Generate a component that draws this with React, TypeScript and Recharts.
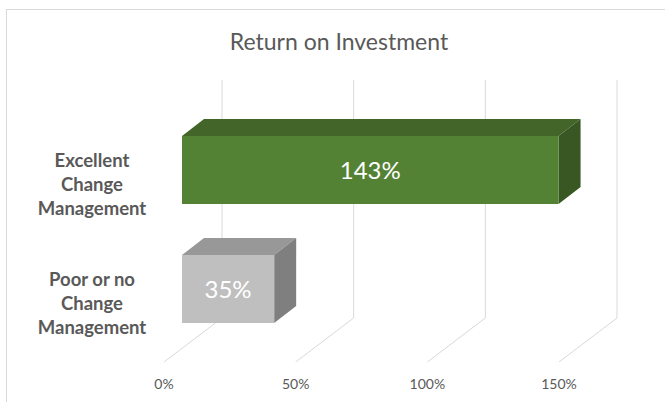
import React from "react";
import { BarChart, Bar, XAxis, YAxis, CartesianGrid, LabelList } from "recharts";

const categories = ["Excellent Change Management", "Poor or no Change Management"];
const categoryLines = [
  ["Excellent", "Change", "Management"],
  ["Poor or no", "Change", "Management"],
];
const roiValues = [1.43, 0.35];
const roiLabels = ["143%", "35%"];
const xTicks = [0, 0.5, 1, 1.5];
const xTickLabels = ["0%", "50%", "100%", "150%"];

// front / top / side colours for each bar
const frontColors = ["#548235", "#bfbfbf"];
const topColors = ["#43652a", "#989898"];
const sideColors = ["#385723", "#7f7f7f"];

const data = categories.map((name, i) => ({ name, roi: roiValues[i], label: roiLabels[i] }));

const FONT = "Lato, 'Open Sans', sans-serif";
const DX = 22; // bar depth
const DY = 17;
const BACK_X = 40; // back wall offset from bar plane
const BACK_Y = 30;
const FRONT_X = 18; // floor front edge offset
const FRONT_Y = 14;

const Box3D = (props: any) => {
  const { x, y, width, height, index } = props;
  const w = width;
  const h = height;
  return (
    <g>
      <path
        d={`M${x},${y} L${x + DX},${y - DY} L${x + w + DX},${y - DY} L${x + w},${y} Z`}
        fill={topColors[index]}
      />
      <path
        d={`M${x + w},${y} L${x + w + DX},${y - DY} L${x + w + DX},${y + h - DY} L${x + w},${y + h} Z`}
        fill={sideColors[index]}
      />
      <rect x={x} y={y} width={w} height={h} fill={frontColors[index]} />
    </g>
  );
};

const gridLine = (p: any) => {
  const x = p.x1;
  return (
    <path
      key={p.key}
      d={`M${x + BACK_X},${p.y1 - BACK_Y} L${x + BACK_X},${p.y2 - BACK_Y} L${x - FRONT_X},${p.y2 + FRONT_Y}`}
      stroke="#d9d9d9"
      strokeWidth={1}
      fill="none"
    />
  );
};

const XTick = (props: any) => {
  const { x, y, index } = props;
  return (
    <text x={x - FRONT_X} y={y + 36} dy="0.355em" textAnchor="middle" fill="#595959" fontSize={14} fontFamily={FONT}>
      {xTickLabels[index]}
    </text>
  );
};

const YTick = (props: any) => {
  const { x, y, index } = props;
  const lines = categoryLines[index] || [];
  return (
    <text textAnchor="middle" fill="#595959" fontSize={18.5} fontWeight="bold" fontFamily={FONT}>
      {lines.map((l, i) => (
        <tspan key={i} x={x - 90} y={y + 15 + (i - 1) * 24} dy="0.355em">
          {l}
        </tspan>
      ))}
    </text>
  );
};

export default function App() {
  return (
    <div style={{ position: "absolute", left: 0, top: 0, width: 665, height: 402, overflow: "hidden", background: "#fff" }}>
      <div
        style={{
          position: "absolute",
          left: 6,
          top: 9,
          width: 720,
          height: 500,
          border: "1px solid #d9d9d9",
        }}
      />
      <div
        style={{
          position: "absolute",
          left: 0,
          top: 27,
          width: 678,
          textAlign: "center",
          fontFamily: FONT,
          fontSize: 23,
          color: "#595959",
        }}
      >
        Return on Investment
      </div>
      <div style={{ position: "absolute", left: 0, top: 0 }}>
        <BarChart
          width={665}
          height={402}
          data={data}
          layout="vertical"
          margin={{ top: 110, right: 88, bottom: 14, left: 12 }}
        >
          <CartesianGrid horizontal={false} vertical={gridLine} />
          <XAxis
            type="number"
            domain={[0, 1.5]}
            ticks={xTicks}
            axisLine={false}
            tickLine={false}
            tickSize={0}
            tickMargin={0}
            height={40}
            tick={<XTick />}
          />
          <YAxis
            type="category"
            dataKey="name"
            width={170}
            axisLine={false}
            tickLine={false}
            tickSize={0}
            tickMargin={0}
            tick={<YTick />}
          />
          <Bar dataKey="roi" barSize={68} shape={<Box3D />} isAnimationActive={false}>
            <LabelList dataKey="label" position="center" fill="#ffffff" fontSize={24} fontFamily={FONT} />
          </Bar>
        </BarChart>
      </div>
    </div>
  );
}
